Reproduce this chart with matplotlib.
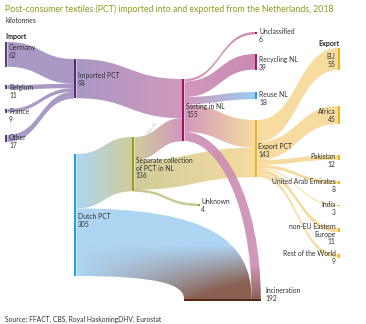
import numpy as np
import matplotlib
matplotlib.use("Agg")
import matplotlib.pyplot as plt
from matplotlib.path import Path
from matplotlib.patches import PathPatch
from matplotlib.colors import to_rgb

plt.rcParams['font.family'] = ['Lato', 'DejaVu Sans']

# ---------------------------
# Data (kilotonnes)
# ---------------------------
import_names = ['Germany', 'Belgium', 'France', 'Other']
import_values = [62, 11, 9, 17]

imported_total = 98
dutch_total = 305
separate_total = 136
sorting_total = 155
export_total = 143
incineration_total = 192
unknown_total = 4

sort_out_names = ['Unclassified', 'Recycling NL', 'Reuse NL']
sort_out_values = [6, 39, 18]
sort_to_export = 69
sort_to_incineration = 23
sep_to_sorting = 58
sep_to_export = 74
dutch_to_incineration = 169

export_names = ['EU', 'Africa', 'Pakistan', 'United Arab Emirates', 'India',
                'non-EU Eastern\nEurope', 'Rest of the World']
export_values = [55, 45, 12, 8, 3, 11, 9]

# ---------------------------
# Layout (pixel canvas) and colours
# ---------------------------
W, H = 366, 324
K = 0.4          # px per kilotonne
BAR = 2.4
FS = 4.9

PURPLE = '#9d8bbd'
PINK = '#cb8ab3'
BLUE = '#a3d0f2'
OLIVE = '#c8c78c'
YELLOW = '#f6d793'
BROWN = '#7a4a3a'
MAGENTA = '#c47aa8'
REUSE = '#8cc6ee'

nodes = {}

def add_node(name, x, y, value, color, label=None, lx=None, ly=None, ha='left', horiz=False):
    nodes[name] = dict(x=x, y=y, v=value, c=color, label=label, lx=lx, ly=ly,
                       ha=ha, horiz=horiz, out=0.0, inn=0.0)

imp_y = [42, 85, 109, 135]
imp_ly = [44, 84, 108, 134]
for n, v, y, ly in zip(import_names, import_values, imp_y, imp_ly):
    add_node(n, 5, y, v, '#5c3d85', f'{n}\n{v}', 9, ly)

add_node('Imported PCT', 74, 59, imported_total, '#5a2d72', f'Imported PCT\n{imported_total}', 78, 72)
add_node('Dutch PCT', 74, 154, dutch_total, '#1aa3e8', f'Dutch PCT\n{dutch_total}', 78, 213)
add_node('Separate', 132, 137, separate_total, '#9a9a22',
         f'Separate collection\nof PCT in NL\n{separate_total}', 135.5, 157)
add_node('Sorting', 182, 79, sorting_total, '#a3125f', f'Sorting in NL\n{sorting_total}', 186, 103)
add_node('Unknown', 198, 204, unknown_total, '#9a9a22', f'Unknown\n{unknown_total}', 201, 198)

so_y = [32, 54, 92]
so_ly = [28, 56, 91]
so_col = ['#a8196a', '#a8196a', '#1a9ee0']
for n, v, y, ly, c in zip(sort_out_names, sort_out_values, so_y, so_ly, so_col):
    add_node(n, 255, y, v, c, f'{n}\n{v}', 259, ly)

add_node('Export PCT', 255, 120, export_total, '#f0b41a', f'Export PCT\n{export_total}', 258.5, 143)

ex_y = [48, 106, 155, 181, 204.5, 228, 254]
ex_ly = [53, 108, 153, 178, 201, 223, 250]
for n, v, y, ly in zip(export_names, export_values, ex_y, ex_ly):
    add_node(n, 338, y, v, '#f0b41a', f'{n}\n{v}', 335.5, ly, ha='right')

add_node('Incineration', 184, 299, incineration_total, '#5a2814',
         f'Incineration\n{incineration_total}', 265, 287, horiz=True)

flows = []
for n, v in zip(import_names, import_values):
    flows.append((n, 'Imported PCT', v, PURPLE, PURPLE))
flows.append(('Imported PCT', 'Sorting', imported_total, PURPLE, PINK))
flows.append(('Dutch PCT', 'Separate', separate_total, BLUE, OLIVE))
flows.append(('Dutch PCT', 'Incineration', dutch_to_incineration, BLUE, BROWN))
flows.append(('Separate', 'Sorting', sep_to_sorting, OLIVE, PINK))
flows.append(('Separate', 'Export PCT', sep_to_export, OLIVE, YELLOW))
flows.append(('Separate', 'Unknown', unknown_total, OLIVE, OLIVE))
for n, v, c in zip(sort_out_names, sort_out_values, [MAGENTA, MAGENTA, REUSE]):
    flows.append(('Sorting', n, v, PINK, c))
flows.append(('Sorting', 'Export PCT', sort_to_export, PINK, YELLOW))
flows.append(('Sorting', 'Incineration', sort_to_incineration, PINK, BROWN))
for n, v in zip(export_names, export_values):
    flows.append(('Export PCT', n, v, YELLOW, YELLOW))

# target-side order: horizontal node left->right by lower source, else top->bottom
def in_key(f):
    s = nodes[f[0]]
    return -s['y'] if nodes[f[1]]['horiz'] else s['y']

# ---------------------------
# Figure
# ---------------------------
fig = plt.figure(figsize=(W / 100, H / 100), dpi=100)
ax = fig.add_axes([0, 0, 1, 1])
ax.set_xlim(0, W)
ax.set_ylim(H, 0)
ax.axis('off')

def gradient_fill(path, c0, c1, tfun, alpha=0.88):
    patch = PathPatch(path, facecolor='none', edgecolor='none')
    ax.add_patch(patch)
    ext = path.get_extents()
    x0, x1, y0, y1 = ext.x0, ext.x1, ext.y0, ext.y1
    nx = max(int((x1 - x0) * 2), 2)
    ny = max(int((y1 - y0) * 2), 2)
    gx, gy = np.meshgrid(np.linspace(x0, x1, nx), np.linspace(y0, y1, ny))
    t = np.clip(tfun(gx, gy), 0, 1)[..., None]
    a, b = np.array(to_rgb(c0)), np.array(to_rgb(c1))
    rgb = a * (1 - t) + b * t
    img = np.concatenate([rgb, np.full(t.shape, alpha)], axis=2)
    im = ax.imshow(img, extent=(x0, x1, y1, y0), origin='upper',
                   interpolation='bilinear', aspect='auto', zorder=1)
    im.set_clip_path(patch)

C = Path.CURVE4
out_pos = {}
for f in flows:
    s = nodes[f[0]]
    out_pos[id(f)] = s['y'] + s['out']
    s['out'] += f[2] * K
in_pos = {}
for tname in nodes:
    for f in sorted([f for f in flows if f[1] == tname], key=in_key):
        t = nodes[tname]
        in_pos[id(f)] = (t['x'] if t['horiz'] else t['y']) + t['inn']
        t['inn'] += f[2] * K

for f in flows:
    s, t = nodes[f[0]], nodes[f[1]]
    h = f[2] * K
    xs = s['x'] + BAR
    s0, s1 = out_pos[id(f)], out_pos[id(f)] + h
    if t['horiz']:
        Y = t['y']
        t0, t1 = in_pos[id(f)], in_pos[id(f)] + h
        a = 0.75 if f[0] == 'Dutch PCT' else 0.5
        b = 0.35 if f[0] == 'Dutch PCT' else 0.4
        verts = [(xs, s0), (xs + a * (t1 - xs), s0), (t1, s0 + b * (Y - s0)), (t1, Y),
                 (t0, Y), (t0, s1 + b * (Y - s1)), (xs + a * (t0 - xs), s1), (xs, s1), (xs, s0)]
        codes = [Path.MOVETO, C, C, C, Path.LINETO, C, C, C, Path.CLOSEPOLY]
        if f[0] == 'Dutch PCT':
            tf = lambda x, y, xs=xs: ((y - 245) / 55) * ((x - xs) / 115)
        else:
            tf = lambda x, y: (y - 265) / 35
    else:
        xt = t['x']
        t0, t1 = in_pos[id(f)], in_pos[id(f)] + h
        xm = (xs + xt) / 2
        verts = [(xs, s0), (xm, s0), (xm, t0), (xt, t0),
                 (xt, t1), (xm, t1), (xm, s1), (xs, s1), (xs, s0)]
        codes = [Path.MOVETO, C, C, C, Path.LINETO, C, C, C, Path.CLOSEPOLY]
        tf = lambda x, y, xs=xs, xt=xt: (x - xs) / (xt - xs)
    if f[0] == 'Separate' and f[1] == 'Unknown':
        ax.add_patch(PathPatch(Path(verts, codes), facecolor=OLIVE, edgecolor=OLIVE,
                               lw=0.6, zorder=1))
        continue
    gradient_fill(Path(verts, codes), f[3], f[4], tf)

# node bars and labels
for name, n in nodes.items():
    if n['horiz']:
        ax.add_patch(plt.Rectangle((n['x'], n['y']), n['v'] * K, BAR,
                                   color=n['c'], lw=0, zorder=3))
    else:
        ax.add_patch(plt.Rectangle((n['x'], n['y']), BAR, max(n['v'] * K, 1.2),
                                   color=n['c'], lw=0, zorder=3))
    ax.text(n['lx'], n['ly'], n['label'], ha=n['ha'], va='top', fontsize=FS,
            color='#333333', linespacing=1.1, zorder=4)

# headers and text
ax.text(5, 4, 'Post-consumer textiles (PCT) imported into and exported from the Netherlands, 2018',
        ha='left', va='top', fontsize=6.35, color='#8e9b1c')
ax.text(5, 17, 'kilotonnes', ha='left', va='top', fontsize=FS, color='#333333')
ax.text(5, 33, 'Import', ha='left', va='top', fontsize=5.1, fontweight='bold', color='#222222')
ax.text(340, 40, 'Export', ha='right', va='top', fontsize=5.1, fontweight='bold', color='#222222')
ax.text(152, 128, 'pbl.nl', ha='center', va='center', fontsize=4.5, color='#cfcfcf',
        rotation=55, zorder=5)
ax.text(5, 316, 'Source: FFACT, CBS, Royal HaskoningDHV, Eurostat',
        ha='left', va='top', fontsize=FS, color='#333333')

fig.savefig('out.png', dpi=100)
